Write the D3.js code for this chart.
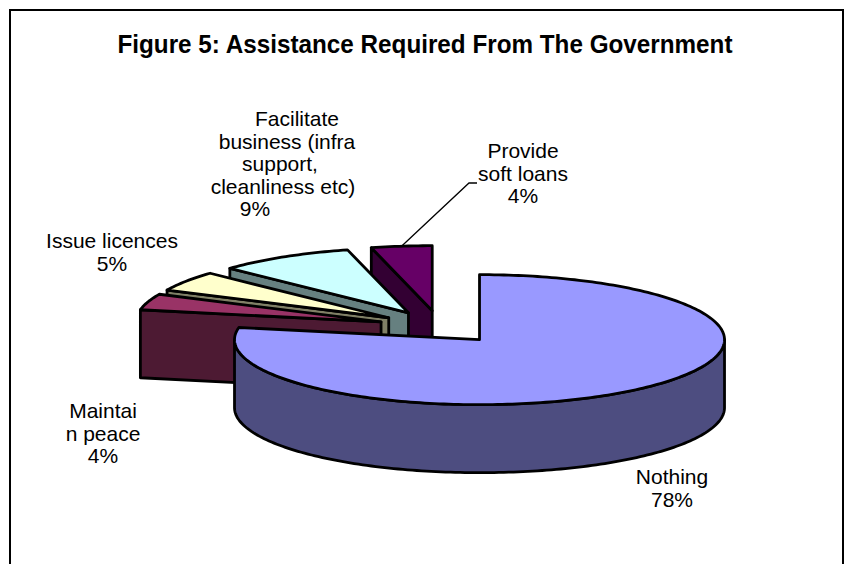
<!DOCTYPE html>
<html lang="en">
<head>
  <meta charset="UTF-8">
  <title>Figure 5: Assistance Required From The Government</title>
  <style>
    body { margin: 0; padding: 0; background-color: #fff; }
    svg { display: block; }
    .title { font-family: "Liberation Sans", Arial, sans-serif; font-weight: bold; font-size: 25px; }
    .label { font-family: "Liberation Sans", Arial, sans-serif; font-size: 21px; }
  </style>
  <script src="https://d3js.org/d3.v7.min.js"></script>
</head>
<body>
  <div id="chart"></div>
  <script>
    // Chart data
    const categories = ["Nothing", "Maintain peace", "Issue licences",
      "Facilitate business (infra support, cleanliness etc)", "Provide soft loans"];
    const values = [78, 4, 5, 9, 4];
    const labelLines = [
      ["Nothing", "78%"],
      ["Maintai", "n peace", "4%"],
      ["Issue licences", "5%"],
      ["Facilitate", "business (infra", "support,", "cleanliness etc)", "9%"],
      ["Provide", "soft loans", "4%"]
    ];
    const topColors = ["#9999FF", "#993366", "#FFFFCC", "#CCFFFF", "#660066"];
    const sideColors = ["#4D4D80", "#4D1A33", "#808066", "#668080", "#330033"];

    // label placement (centre x, first baseline y, per-line x shifts)
    const labelLayout = [
      { x: 672, y: 484, dx: [0, 0] },
      { x: 103, y: 418, dx: [0, 0, 0] },
      { x: 112, y: 248, dx: [0, 0] },
      { x: 285, y: 126, dx: [12, 2, -5, -2, -30] },
      { x: 523, y: 158, dx: [0, 0, 0] }
    ];

    const width = 846, height = 564;
    const cx = 440, cy = 327, rx = 245, ry = 65, depth = 68;
    const explode = 0.253;
    const lineH = 22.5;

    const svg = d3.select("#chart").append("svg")
      .attr("width", width)
      .attr("height", height);

    svg.append("rect")
      .attr("width", width).attr("height", height)
      .attr("fill", "#fff");

    // chart border (bottom edge runs off the page)
    svg.append("rect")
      .attr("x", 10).attr("y", 10)
      .attr("width", 833).attr("height", 600)
      .attr("fill", "none")
      .attr("stroke", "#000")
      .attr("stroke-width", 2);

    // narrow bold title
    svg.append("text")
      .attr("class", "title")
      .attr("x", 425).attr("y", 53)
      .attr("text-anchor", "middle")
      .attr("textLength", 615)
      .attr("lengthAdjust", "spacingAndGlyphs")
      .text("Figure 5: Assistance Required From The Government");

    // unit-circle plane -> screen
    const xS = d3.scaleLinear().domain([-1, 1]).range([cx - rx, cx + rx]);
    const yS = d3.scaleLinear().domain([-1, 1]).range([cy + ry, cy - ry]);

    const pie = d3.pie().sort(null).startAngle(0).endAngle(2 * Math.PI);
    const arcs = pie(values).map((d, i) => {
      const mid = (d.startAngle + d.endAngle) / 2;
      return Object.assign(d, {
        i: i,
        mid: mid,
        ox: explode * Math.sin(mid),
        oy: explode * Math.cos(mid)
      });
    });

    function pt(d, a, r, dz) {
      return [xS(d.ox + r * Math.sin(a)), yS(d.oy + r * Math.cos(a)) + dz * depth];
    }

    function arcPts(d, a0, a1, dz) {
      const n = Math.max(2, Math.ceil((a1 - a0) / 0.02));
      return d3.range(n + 1).map(k => pt(d, a0 + (a1 - a0) * k / n, 1, dz));
    }

    const line = d3.line();
    const g = svg.append("g")
      .attr("stroke", "#000")
      .attr("stroke-width", 2.8)
      .attr("stroke-linejoin", "round");

    // back slices first
    const order = arcs.slice().sort((a, b) => Math.cos(b.mid) - Math.cos(a.mid));

    order.forEach(d => {
      const a0 = d.startAngle, a1 = d.endAngle;
      const faces = [];

      // radial side faces
      if (Math.sin(a0) < -1e-6) {
        faces.push([pt(d, a0, 0, 0), pt(d, a0, 1, 0), pt(d, a0, 1, 1), pt(d, a0, 0, 1)]);
      }
      if (Math.sin(a1) > 1e-6) {
        faces.push([pt(d, a1, 0, 0), pt(d, a1, 1, 0), pt(d, a1, 1, 1), pt(d, a1, 0, 1)]);
      }
      // curved outer side (front half only)
      const f0 = Math.max(a0, Math.PI / 2), f1 = Math.min(a1, 3 * Math.PI / 2);
      if (f1 > f0) {
        faces.push(arcPts(d, f0, f1, 0).concat(arcPts(d, f0, f1, 1).reverse()));
      }

      faces.forEach(p => {
        g.append("path")
          .attr("d", line(p) + "Z")
          .attr("fill", sideColors[d.i]);
      });

      // top face
      const top = [pt(d, 0, 0, 0)].concat(arcPts(d, a0, a1, 0));
      g.append("path")
        .attr("d", line(top) + "Z")
        .attr("fill", topColors[d.i]);
    });

    // leader line for "Provide soft loans"
    const soft = arcs[4];
    const tip = pt(soft, soft.mid, 1, 0);
    svg.append("path")
      .attr("d", line([[477, 183], [469, 183], tip]))
      .attr("fill", "none")
      .attr("stroke", "#000")
      .attr("stroke-width", 1.3);

    // data labels
    labelLines.forEach((lines, i) => {
      const L = labelLayout[i];
      const t = svg.append("text")
        .attr("class", "label")
        .attr("text-anchor", "middle")
        .attr("fill", "#000");
      lines.forEach((s, k) => {
        t.append("tspan")
          .attr("x", L.x + L.dx[k])
          .attr("y", L.y + k * lineH)
          .text(s);
      });
    });
  </script>
</body>
</html>
